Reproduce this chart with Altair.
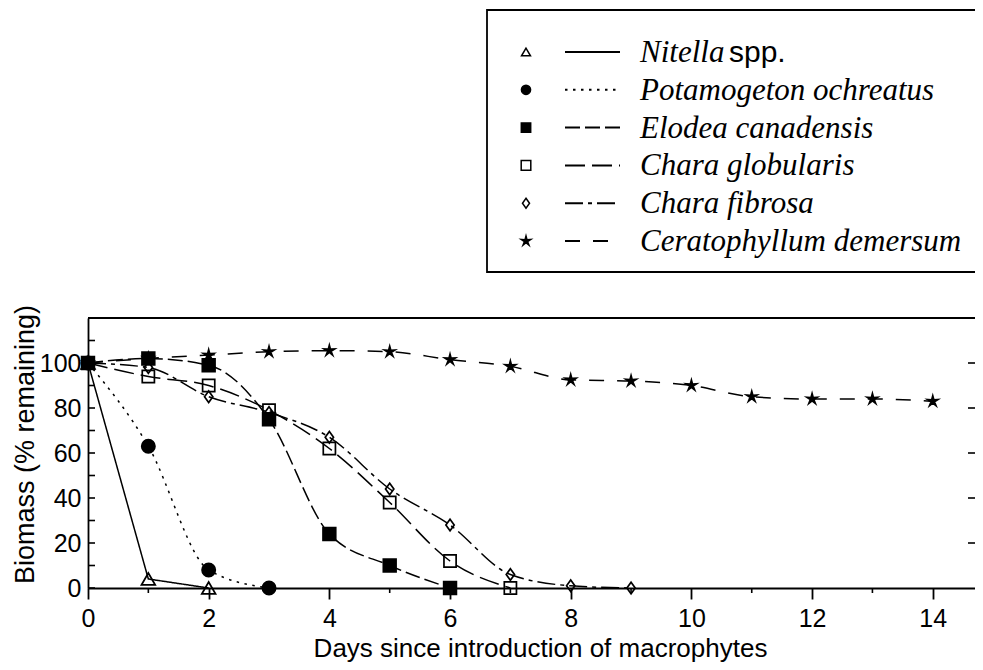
import altair as alt
import pandas as pd

# ---------------- data ----------------
species = ["Nitella spp.", "Potamogeton ochreatus", "Elodea canadensis",
           "Chara globularis", "Chara fibrosa", "Ceratophyllum demersum"]
legend_labels = ["Nitella", "Potamogeton ochreatus", "Elodea canadensis",
                 "Chara globularis", "Chara fibrosa", "Ceratophyllum demersum"]
nitella_suffix = "spp."

nitella_days = [0, 1, 2]
nitella = [100, 4, 0]
pota_days = [0, 1, 2, 3]
pota = [100, 63, 8, 0]
elodea_days = [0, 1, 2, 3, 4, 5, 6]
elodea = [100, 102, 99, 75, 24, 10, 0]
glob_days = [0, 1, 2, 3, 4, 5, 6, 7]
glob = [100, 94, 90, 79, 62, 38, 12, 0]
fib_days = [0, 1, 2, 3, 4, 5, 6, 7, 8, 9]
fib = [100, 98, 85, 78, 67, 44, 28, 6, 1, 0]
cer_days = [0, 1, 2, 3, 4, 5, 6, 7, 8, 9, 10, 11, 12, 13, 14]
cer = [100, 102, 103.5, 105, 105.5, 105, 101.5, 98.5, 92.5, 92, 90, 85, 84, 84, 83]

x_labels = [0, 2, 4, 6, 8, 10, 12, 14]
x_minor = [1, 3, 5, 7, 9, 11, 13]
y_labels = [0, 20, 40, 60, 80, 100]
y_left_ticks = [0, 10, 20, 30, 40, 50, 60, 70, 80, 90, 100, 110]
y_right_ticks = [20, 40, 60, 80, 100]

series = [(species[0], nitella_days, nitella), (species[1], pota_days, pota),
          (species[2], elodea_days, elodea), (species[3], glob_days, glob),
          (species[4], fib_days, fib), (species[5], cer_days, cer)]
rows = []
for name, d, v in series:
    for a, b in zip(d, v):
        rows.append({"species": name, "day": a, "biomass": b})
df = pd.DataFrame(rows)

leg_df = pd.DataFrame({"species": species, "row": list(range(6)), "label": legend_labels})

# ---------------- styles ----------------
W, H = 887, 270
STAR = ("M0,-1L0.194,-0.267L0.951,-0.309L0.314,0.102L0.588,0.809L0,0.33"
        "L-0.588,0.809L-0.314,0.102L-0.951,-0.309L-0.194,-0.267Z")
DIAMOND = "M0,-1L0.72,0L0,1L-0.72,0Z"
shapes = ["triangle-up", "circle", "square", "square", DIAMOND, STAR]
fills = ["transparent", "black", "black", "transparent", "transparent", "black"]
dashes = [[1, 0], [2.5, 5.5], [15, 5], [20, 7], [18, 5, 4, 5], [15, 13]]
sizes_main = [190, 120, 160, 180, 380, 320]
sizes_leg = [80, 100, 90, 110, 180, 220]

dash_enc = alt.StrokeDash("species:N", scale=alt.Scale(domain=species, range=dashes), legend=None)
shape_enc = alt.Shape("species:N", scale=alt.Scale(domain=species, range=shapes), legend=None)
fill_enc = alt.Fill("species:N", scale=alt.Scale(domain=species, range=fills), legend=None)

xscale = alt.Scale(domain=[0, 14.70], nice=False, zero=False)
yscale = alt.Scale(domain=[0, 120], nice=False)

x_axis = alt.Axis(values=x_labels, title="Days since introduction of macrophytes",
                  tickSize=11, tickWidth=1.8, tickColor="black", domainColor="black",
                  domainWidth=1.8, labelFont="Liberation Sans", labelFontSize=25,
                  labelColor="black", labelPadding=7, labelFlush=False, grid=False,
                  titleFont="Liberation Sans", titleFontSize=26, titleFontWeight="normal",
                  titleColor="black", titlePadding=4, titleX=452)
y_axis = alt.Axis(values=y_labels, title="Biomass (% remaining)", ticks=False,
                  domainColor="black", domainWidth=1.8, labelFont="Liberation Sans",
                  labelFontSize=25, labelColor="black", labelPadding=7, grid=False,
                  titleFont="Liberation Sans", titleFontSize=27, titleFontWeight="normal",
                  titleColor="black", titlePadding=0, titleY=126)

X = alt.X("day:Q", scale=xscale, axis=x_axis)
Y = alt.Y("biomass:Q", scale=yscale, axis=y_axis)

base = alt.Chart(df)

lines_lin = base.transform_filter(alt.datum.species == species[0]).mark_line(
    color="black", strokeWidth=1.5).encode(x=X, y=Y, strokeDash=dash_enc, detail="species:N")

lines_curve = base.transform_filter(alt.datum.species != species[0]).mark_line(
    color="black", strokeWidth=1.5, interpolate="monotone").encode(
    x=X, y=Y, strokeDash=dash_enc, detail="species:N")

points = base.mark_point(filled=True, stroke="black", strokeWidth=1.7, opacity=1).encode(
    x=X, y=Y, shape=shape_enc, fill=fill_enc,
    size=alt.Size("species:N", scale=alt.Scale(domain=species, range=sizes_main), legend=None))

left_ticks = alt.Chart(pd.DataFrame({"biomass": y_left_ticks})).mark_rule(
    color="black", strokeWidth=1.6).encode(y=Y, x=alt.value(0), x2=alt.value(7))
right_ticks = alt.Chart(pd.DataFrame({"biomass": y_right_ticks})).mark_rule(
    color="black", strokeWidth=1.6).encode(y=Y, x=alt.value(W - 7), x2=alt.value(W))
minor_ticks = alt.Chart(pd.DataFrame({"day": x_minor})).mark_rule(
    color="black", strokeWidth=1.6).encode(x=X, y=alt.value(H), y2=alt.value(H + 5))
top_border = alt.Chart(alt.Data(values=[{}])).mark_rule(
    color="black", strokeWidth=1.8).encode(
    x=alt.value(0), x2=alt.value(W + 5), y=alt.value(0))

main = alt.layer(lines_lin, lines_curve, points, left_ticks, right_ticks, minor_ticks, top_border)

# ---------------- legend ----------------
row_y = alt.Y("row:Q", scale=alt.Scale(domain=[0, 5], range=[-266, -77]), axis=None)
leg = alt.Chart(leg_df)
leg_box = alt.Chart(alt.Data(values=[{}])).mark_rect(
    fill="transparent", stroke="black", strokeWidth=1.8).encode(
    x=alt.value(399), x2=alt.value(W + 10), y=alt.value(-308), y2=alt.value(-46))
leg_sym = leg.mark_point(filled=True, stroke="black", strokeWidth=1.5, opacity=1).encode(
    x=alt.value(438), y=row_y, shape=shape_enc, fill=fill_enc,
    size=alt.Size("species:N", scale=alt.Scale(domain=species, range=sizes_leg), legend=None))
leg_line = leg.mark_rule(color="black", strokeWidth=2).encode(
    x=alt.value(477), x2=alt.value(532), y=row_y, strokeDash=dash_enc)
leg_text = leg.mark_text(align="left", baseline="alphabetic", dy=10, font="Liberation Serif",
                         fontStyle="italic", fontSize=31, color="black").encode(
    x=alt.value(552), y=row_y, text="label:N")
leg_suffix = leg.transform_filter(alt.datum.row == 0).transform_calculate(
    suf=f"'{nitella_suffix}'").mark_text(
    align="left", baseline="alphabetic", dy=10, font="Liberation Sans",
    fontSize=30, color="black").encode(x=alt.value(641), y=row_y, text="suf:N")

legend = alt.layer(leg_box, leg_line, leg_sym, leg_text, leg_suffix)

chart = alt.layer(main, legend).resolve_scale(
    y="independent", size="independent"
).properties(
    width=W, height=H,
    padding={"left": 80, "top": 310, "right": 0, "bottom": 74},
    autosize=alt.AutoSizeParams(type="none"),
    background="white",
).configure_view(stroke=None)

chart.save("out.html", embed_options={"renderer": "svg", "actions": False})
